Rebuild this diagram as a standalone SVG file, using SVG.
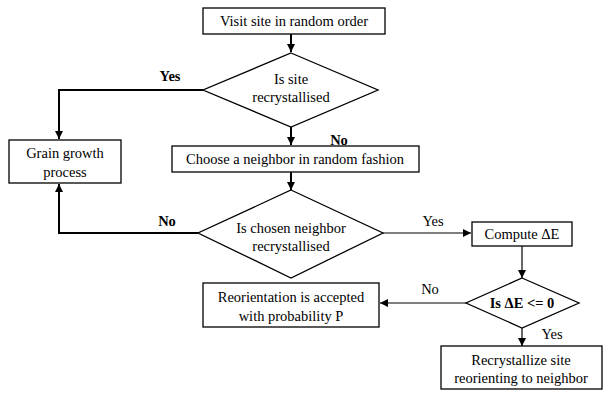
<svg xmlns="http://www.w3.org/2000/svg" width="605" height="395" viewBox="0 0 605 395">
<defs>
<style>
text{font-family:'Liberation Serif','Times New Roman',Times,serif;font-size:14.5px;fill:#000;text-anchor:middle}
.b{font-weight:bold}
.shape{fill:#fff;stroke:#000;stroke-width:1.3}
.thick{fill:none;stroke:#000;stroke-width:2}
.thin{fill:none;stroke:#000;stroke-width:1.2}
</style>
<marker id="ah" viewBox="0 0 10 10" refX="10" refY="5" markerWidth="8" markerHeight="8" markerUnits="userSpaceOnUse" orient="auto">
<path d="M0,0 L10,5 L0,10 z" fill="#000"/>
</marker>
</defs>
<rect width="605" height="395" fill="#fff"/>
<g id="connectors" font-family="Liberation Serif, serif">
<path class="thick" d="M291,34 V52" marker-end="url(#ah)"/>
<path class="thick" d="M203,90 H59 V139" marker-end="url(#ah)"/>
<path class="thick" d="M291,127 V145" marker-end="url(#ah)"/>
<path class="thick" d="M291,172 V190" marker-end="url(#ah)"/>
<path class="thick" d="M198,233 H59 V184" marker-end="url(#ah)"/>
<path class="thin" d="M383,233 H471" marker-end="url(#ah)"/>
<path class="thin" d="M522,246 V278" marker-end="url(#ah)"/>
<path class="thin" d="M466,303 H380" marker-end="url(#ah)"/>
<path class="thin" d="M522,328 V346" marker-end="url(#ah)"/>
<text class="b" x="170" y="81">Yes</text>
<text class="b" x="339" y="145">No</text>
<text class="b" x="167" y="226">No</text>
<text x="433" y="226">Yes</text>
<text x="430" y="294">No</text>
<text x="552" y="339">Yes</text>
</g>
<g id="visit" font-family="Liberation Serif, serif">
<rect class="shape" x="203" y="8" width="182" height="26"/>
<text x="294" y="26">Visit site in random order</text>
</g>
<g id="is-site" font-family="Liberation Serif, serif">
<path class="shape" d="M291,53 L378,90 L291,127 L203,90 Z"/>
<text x="291" y="84">Is site</text>
<text x="291" y="102">recrystallised</text>
</g>
<g id="grain" font-family="Liberation Serif, serif">
<rect class="shape" x="9" y="140" width="112" height="43"/>
<text x="65" y="158">Grain growth</text>
<text x="65" y="177">process</text>
</g>
<g id="choose" font-family="Liberation Serif, serif">
<rect class="shape" x="172" y="146" width="247" height="26"/>
<text x="295" y="164">Choose a neighbor in random fashion</text>
</g>
<g id="is-chosen" font-family="Liberation Serif, serif">
<path class="shape" d="M291,190 L383,233 L291,278 L198,233 Z"/>
<text x="291" y="233">Is chosen neighbor</text>
<text x="291" y="251">recrystallised</text>
</g>
<g id="compute" font-family="Liberation Serif, serif">
<rect class="shape" x="472" y="222" width="100" height="24"/>
<text x="522" y="239">Compute ΔE</text>
</g>
<g id="is-de" font-family="Liberation Serif, serif">
<path class="shape" d="M522,278 L579,303 L522,328 L466,303 Z"/>
<text class="b" x="522" y="308">Is ΔE &lt;= 0</text>
</g>
<g id="reorient" font-family="Liberation Serif, serif">
<rect class="shape" x="203" y="283" width="176" height="44"/>
<text x="291" y="302">Reorientation is accepted</text>
<text x="291" y="321">with probability P</text>
</g>
<g id="recryst" font-family="Liberation Serif, serif">
<rect class="shape" x="441" y="346" width="161" height="43"/>
<text x="521" y="365">Recrystallize site</text>
<text x="521" y="383">reorienting to neighbor</text>
</g>
</svg>
